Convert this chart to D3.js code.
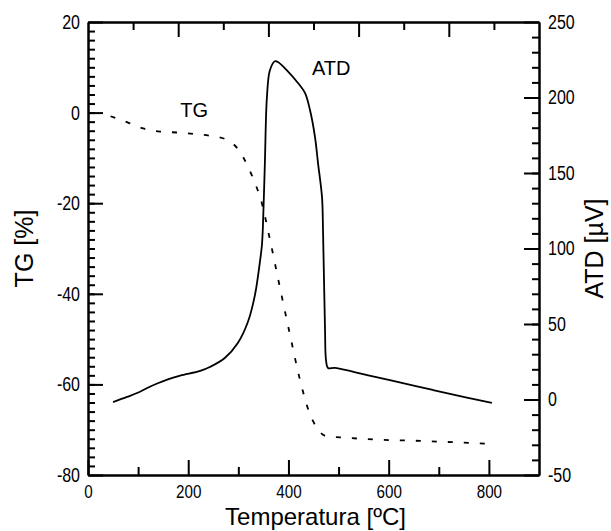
<!DOCTYPE html>
<html>
<head>
<meta charset="utf-8">
<script src="https://cdn.jsdelivr.net/npm/d3@7"></script>
<style>
  body { margin: 0; background: #fff; }
  .tick text { font-family: "Liberation Sans", Arial, sans-serif; font-size: 20px; fill: #000; }
  .axis path, .axis line { stroke: #000; stroke-width: 2; }
  .title { font-family: "Liberation Sans", Arial, sans-serif; font-size: 25px; fill: #000; }
</style>
</head>
<body>
<div id="chart"></div>
<script>
// TG curve (dashed), temperature in ºC and mass in %
let tgTemp = [45, 80, 110, 144, 178, 210, 243, 277, 303, 319, 333, 345, 363, 383, 403, 423, 441, 455, 477, 503, 579, 643, 736, 802];
let tgValues = [-0.8, -2.2, -3.5, -4.2, -4.4, -4.7, -5.1, -6.0, -8.6, -11.9, -15.5, -19.2, -28, -38.6, -49, -59, -66, -69.3, -71.5, -71.7, -72.2, -72.4, -72.8, -73.1];

// ATD curve (solid), in µV
let atdTemp = [50, 78, 98, 118, 138, 158, 184, 224, 243, 273, 299, 319, 333, 343, 347, 349, 353, 357, 363, 373, 379, 397, 419, 433, 443, 453, 459, 467, 469, 473, 475, 479, 493, 557, 609, 688, 756, 806];
let atdValues = [-1.7, 1.7, 4.3, 7.6, 10.6, 13.2, 15.8, 18.9, 21.5, 27.5, 37.4, 51.3, 69, 91, 102, 114, 157, 200, 218, 224, 223.5, 218, 209.6, 203, 191.7, 173.8, 156.6, 134, 112, 46, 26, 20.9, 20.9, 16.2, 12.3, 6.3, 1.3, -2.3];

let xTicks = [0, 200, 400, 600, 800];
let xMinor = [100, 300, 500, 700];
let tgTicks = [-80, -60, -40, -20, 0, 20];
let atdTicks = [-50, 0, 50, 100, 150, 200, 250];
let topTicks = [2, 4, 6, 8];
let topMinor = [1, 3, 5, 7, 9];

let width = 611, height = 531;
let margin = { top: 22, right: 72, bottom: 56, left: 88 };

let svg = d3.select("#chart")
    .append("svg")
    .attr("width", width)
    .attr("height", height);

let x = d3.scaleLinear().domain([0, 900]).range([margin.left, width - margin.right]);
let xTop = d3.scaleLinear().domain([0, 10]).range([margin.left, width - margin.right]);
let yTG = d3.scaleLinear().domain([-80, 20]).range([height - margin.bottom, margin.top]);
let yATD = d3.scaleLinear().domain([-50, 250]).range([height - margin.bottom, margin.top]);

let bottom = height - margin.bottom;
let right = width - margin.right;
let plain = d => String(d);

// minor ticks first, no labels
svg.append("g").attr("class", "axis").attr("transform", `translate(0,${bottom})`)
    .call(d3.axisBottom(x).tickValues(xMinor).tickSize(-8).tickSizeOuter(0).tickFormat(""));
svg.append("g").attr("class", "axis").attr("transform", `translate(0,${margin.top})`)
    .call(d3.axisTop(xTop).tickValues(topMinor).tickSize(-8).tickSizeOuter(0).tickFormat(""));
svg.append("g").attr("class", "axis").attr("transform", `translate(${margin.left},0)`)
    .call(d3.axisLeft(yTG).tickValues(d3.range(-78, 20, 2)).tickSize(-7).tickSizeOuter(0).tickFormat(""));
svg.append("g").attr("class", "axis").attr("transform", `translate(${right},0)`)
    .call(d3.axisRight(yATD).tickValues(d3.range(-40, 250, 10)).tickSize(-7).tickSizeOuter(0).tickFormat(""));

// major ticks with labels
svg.append("g").attr("class", "axis x-labels").attr("transform", `translate(0,${bottom})`)
    .call(d3.axisBottom(x).tickValues(xTicks).tickSize(-15).tickSizeOuter(0).tickPadding(10).tickFormat(plain));
svg.append("g").attr("class", "axis").attr("transform", `translate(0,${margin.top})`)
    .call(d3.axisTop(xTop).tickValues(topTicks).tickSize(-15).tickSizeOuter(0).tickFormat(""));
svg.append("g").attr("class", "axis").attr("transform", `translate(${margin.left},0)`)
    .call(d3.axisLeft(yTG).tickValues(tgTicks).tickSize(-15).tickSizeOuter(0).tickPadding(8).tickFormat(plain));
svg.append("g").attr("class", "axis").attr("transform", `translate(${right},0)`)
    .call(d3.axisRight(yATD).tickValues(atdTicks).tickSize(-15).tickSizeOuter(0).tickPadding(9).tickFormat(plain));

svg.selectAll(".x-labels .tick text").style("font-size", "19px");

// squeeze the tick labels, the original uses a narrow face
svg.selectAll(".tick text").each(function () {
    let w = this.getComputedTextLength();
    if (w > 0) d3.select(this).attr("textLength", w * 0.8).attr("lengthAdjust", "spacingAndGlyphs");
});

// curves
let tgLine = d3.line().x(d => x(d[0])).y(d => yTG(d[1])).curve(d3.curveMonotoneX);
let atdLine = d3.line().x(d => x(d[0])).y(d => yATD(d[1])).curve(d3.curveCatmullRom);

svg.append("path")
    .datum(d3.zip(tgTemp, tgValues))
    .attr("d", tgLine)
    .attr("fill", "none")
    .attr("stroke", "#000")
    .attr("stroke-width", 1.8)
    .attr("stroke-dasharray", "5,11");

svg.append("path")
    .datum(d3.zip(atdTemp, atdValues))
    .attr("d", atdLine)
    .attr("fill", "none")
    .attr("stroke", "#000")
    .attr("stroke-width", 1.8);

// curve labels
svg.append("text").attr("class", "title").style("font-size", "20px")
    .attr("x", x(184)).attr("y", yTG(-0.9)).text("TG");
svg.append("text").attr("class", "title").style("font-size", "20px")
    .attr("x", x(447)).attr("y", yATD(215)).text("ATD");

// axis titles
svg.append("text").attr("class", "title").style("font-size", "24px")
    .attr("x", (margin.left + right) / 2 + 2).attr("y", 525)
    .attr("text-anchor", "middle")
    .text("Temperatura [ºC]");
svg.append("text").attr("class", "title")
    .attr("transform", `translate(33,${(margin.top + bottom) / 2}) rotate(-90)`)
    .attr("text-anchor", "middle")
    .text("TG [%]");
svg.append("text").attr("class", "title")
    .attr("transform", `translate(603,${(margin.top + bottom) / 2}) rotate(-90)`)
    .attr("text-anchor", "middle")
    .text("ATD [µV]");
</script>
</body>
</html>
